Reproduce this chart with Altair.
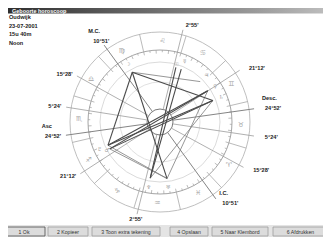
import numpy as np
import pandas as pd
import altair as alt

# ---------------- data ----------------
title_text = "Geboorte horoscoop"
info_lines = ["Oudwijk", "23-07-2001", "15u 40m", "Noon"]
buttons = ["1 Ok", "2 Kopieer", "3 Toon extra tekening", "4 Opslaan", "5 Naar Klembord", "6 Afdrukken"]

# house cusps (drawing angle in degrees, counter-clockwise from 3 o'clock)
cusp_angle = [188, 213, 256, 306, 331.5, 351.5, 8, 33, 76, 126, 151, 171]
cusp_text = ["24°52'", "21°12'", "2°55'", "10°51'", "15°28'", "5°24'",
             "24°52'", "21°12'", "2°55'", "10°51'", "15°28'", "5°24'"]
cusp_name = ["Asc", "", "", "I.C.", "", "", "Desc.", "", "", "M.C.", "", ""]

# zodiac: ascendant longitude (Scorpio 24°52') drawn at the Asc angle
asc_longitude = 234.87
zodiac_glyph = ["♈", "♉", "♊", "♋", "♌", "♍", "♎", "♏", "♐", "♑", "♒", "♓"]

# planets (ecliptic longitude, degrees)
planet_glyph = ["☉", "☽", "☿", "♀", "♂", "♃", "♄", "♅", "♆", "♇"]
planet_lon = [120.7, 166.0, 115.0, 80.0, 255.0, 92.0, 69.0, 324.0, 307.0, 251.0]

# aspects (planet index pairs)
aspects_hard = [(3, 4), (3, 9), (6, 9), (6, 4), (1, 7), (0, 8), (1, 6), (1, 9), (2, 8)]
aspects_soft = [(3, 7), (6, 8), (4, 7), (9, 7), (1, 5)]

# ---------------- layout (window pixels) ----------------
CX, CY = 160.0, 122.0
R_OUT, R_ZOD, R_MID, R_IN, R_CEN = 90, 72, 60, 40, 13
R_PLAN, R_PGLYPH, R_ZGLYPH = 57, 66, 81
OFFSET = cusp_angle[0] - asc_longitude
W, H = 315, 229


def pol(r, a):
    t = np.radians(a)
    return CX + r * np.cos(t), CY - r * np.sin(t)


xs = alt.Scale(domain=[8, 8 + W], range=[0, W], nice=False, zero=False)
ys = alt.Scale(domain=[8, 8 + H], range=[0, H], nice=False, zero=False)


def X(f="x"):
    return alt.X(f"{f}:Q", scale=xs, axis=None)


def Y(f="y"):
    return alt.Y(f"{f}:Q", scale=ys, axis=None)


layers = []

# background panels
panels = pd.DataFrame([
    dict(x=0, x2=340, y=0, y2=260, c="#ffffff"),
    dict(x=0, x2=340, y=225, y2=260, c="#e4e4e4"),
])
layers.append(alt.Chart(panels).mark_rect().encode(
    x=X(), x2="x2:Q", y=Y(), y2="y2:Q", color=alt.Color("c:N", scale=None)))

# title bar
tb = pd.DataFrame([dict(x=0, x2=340, y=0, y2=13.5)])
grad = alt.LinearGradient(gradient="linear",
                          stops=[alt.GradientStop(offset=0, color="#2b2b2b"),
                                 alt.GradientStop(offset=0.75, color="#9a9a9a"),
                                 alt.GradientStop(offset=1, color="#c4c4c4")],
                          x1=0, x2=1, y1=0, y2=0)
layers.append(alt.Chart(tb).mark_rect(color=grad).encode(x=X(), x2="x2:Q", y=Y(), y2="y2:Q"))
layers.append(alt.Chart(pd.DataFrame([dict(x=12, y=11, t=title_text)])).mark_text(
    align="left", baseline="middle", font="Liberation Sans", fontSize=5.5, fontWeight="bold",
    color="#ffffff").encode(x=X(), y=Y(), text="t:N"))

# circles
circ = pd.DataFrame([
    dict(r=R_OUT, c="#b8b8b8", w=0.9),
    dict(r=R_ZOD, c="#9a9a9a", w=0.9),
    dict(r=R_MID, c="#d0d0d0", w=0.8),
    dict(r=R_IN, c="#d8d8d8", w=0.8),
    dict(r=R_CEN, c="#7a7a7a", w=1.0),
])
circ["x"] = CX
circ["y"] = CY
circ["s"] = (2 * circ["r"]) ** 2
layers.append(alt.Chart(circ).mark_point(shape="circle", filled=False, opacity=1).encode(
    x=X(), y=Y(), size=alt.Size("s:Q", scale=None),
    color=alt.Color("c:N", scale=None), strokeWidth=alt.StrokeWidth("w:Q", scale=None)))

# segments
segs = []
for k in range(72):
    a = k * 5 + OFFSET
    x1, y1 = pol(R_ZOD, a)
    x2, y2 = pol(R_ZOD - (3.5 if k % 2 == 0 else 2.2), a)
    segs.append(dict(x=x1, y=y1, x2=x2, y2=y2, c="#a0a0a0", w=0.7))
for k in range(12):
    a = k * 30 + OFFSET
    x1, y1 = pol(R_ZOD, a)
    x2, y2 = pol(R_OUT, a)
    segs.append(dict(x=x1, y=y1, x2=x2, y2=y2, c="#a8a8a8", w=0.8))
for i, a in enumerate(cusp_angle):
    x1, y1 = pol(R_CEN, a)
    x2, y2 = pol(95, a)
    segs.append(dict(x=x1, y=y1, x2=x2, y2=y2,
                     c="#858585" if cusp_name[i] else "#9c9c9c",
                     w=1.0 if cusp_name[i] else 0.8))
for (i, j) in aspects_soft:
    x1, y1 = pol(R_PLAN, planet_lon[i] + OFFSET)
    x2, y2 = pol(R_PLAN, planet_lon[j] + OFFSET)
    segs.append(dict(x=x1, y=y1, x2=x2, y2=y2, c="#7c7c7c", w=0.8))
for (i, j) in aspects_hard:
    x1, y1 = pol(R_PLAN, planet_lon[i] + OFFSET)
    x2, y2 = pol(R_PLAN, planet_lon[j] + OFFSET)
    segs.append(dict(x=x1, y=y1, x2=x2, y2=y2, c="#4a4a4a", w=1.1))
segs = pd.DataFrame(segs)
layers.append(alt.Chart(segs).mark_rule().encode(
    x=X(), y=Y(), x2="x2:Q", y2="y2:Q",
    color=alt.Color("c:N", scale=None), strokeWidth=alt.StrokeWidth("w:Q", scale=None)))

# zodiac glyphs
zg = []
for k, g in enumerate(zodiac_glyph):
    x, y = pol(R_ZGLYPH, k * 30 + 15 + OFFSET)
    zg.append(dict(x=x, y=y, t=g))
layers.append(alt.Chart(pd.DataFrame(zg)).mark_text(
    font="DejaVu Sans", fontSize=7, color="#a5a5a5", baseline="middle", align="center").encode(
    x=X(), y=Y(), text="t:N"))

# planet glyphs (staggered inward when two planets are close together)
order = sorted(range(len(planet_lon)), key=lambda i: (planet_lon[i] + OFFSET) % 360)
pg = []
prev_a, prev_r = None, R_PGLYPH
for i in order:
    a = (planet_lon[i] + OFFSET) % 360
    r = R_PGLYPH
    if prev_a is not None and a - prev_a < 7 and prev_r == R_PGLYPH:
        r = R_PGLYPH - 6
    x, y = pol(r, a)
    pg.append(dict(x=x, y=y, t=planet_glyph[i]))
    prev_a, prev_r = a, r
layers.append(alt.Chart(pd.DataFrame(pg)).mark_text(
    font="DejaVu Sans", fontSize=5.5, color="#a0a0a0", baseline="middle", align="center").encode(
    x=X(), y=Y(), text="t:N"))

# cusp labels
lab = []
for a, txt, nm in zip(cusp_angle, cusp_text, cusp_name):
    x, y = pol(100, a)
    c = np.cos(np.radians(a))
    if c >= 0:
        al, xv = "left", x + 6 * c
        xn, aln = xv - 3, "left"
    elif c < -0.7:
        al, xv = "right", x
        xn, aln = xv - 9, "right"
    else:
        al, xv = "center", x
        xn, aln = xv - 7, "center"
    lab.append(dict(x=xv, y=y, t=txt, al=al))
    if nm:
        lab.append(dict(x=xn, y=y - 10, t=nm, al=aln))
lab = pd.DataFrame(lab)
for al in ["left", "right", "center"]:
    d = lab[lab["al"] == al]
    layers.append(alt.Chart(d).mark_text(
        font="Liberation Sans", fontSize=5.6, fontWeight="bold", color="#1a1a1a",
        baseline="middle", align=al).encode(x=X(), y=Y(), text="t:N"))

# info text
inf = pd.DataFrame([dict(x=9, y=17 + 8.7 * i, t=t) for i, t in enumerate(info_lines)])
layers.append(alt.Chart(inf).mark_text(
    font="Liberation Sans", fontSize=5.6, fontWeight="bold", color="#1a1a1a",
    baseline="middle", align="left").encode(x=X(), y=Y(), text="t:N"))

# buttons
edges = [(3, 45), (48, 88), (92, 160), (170, 208), (212, 268), (273, 328)]
bt = pd.DataFrame([dict(x=a, x2=b, y=227, y2=236, xm=(a + b) / 2, ym=231.7, t=t,
                        s="#4a4a4a" if i == 0 else "#9c9c9c")
                   for i, ((a, b), t) in enumerate(zip(edges, buttons))])
layers.append(alt.Chart(bt).mark_rect(fill="#dcdcdc", strokeWidth=0.8).encode(
    x=X(), x2="x2:Q", y=Y(), y2="y2:Q", stroke=alt.Stroke("s:N", scale=None)))
layers.append(alt.Chart(bt).mark_text(
    font="Liberation Sans", fontSize=5.2, color="#333333", baseline="middle", align="center").encode(
    x=X("xm"), y=Y("ym"), text="t:N"))

chart = alt.layer(*layers).properties(
    width=W, height=H, padding=0, autosize="none", background="white"
).configure_view(stroke=None)

chart.save("out.html", embed_options={"renderer": "svg", "actions": False})
